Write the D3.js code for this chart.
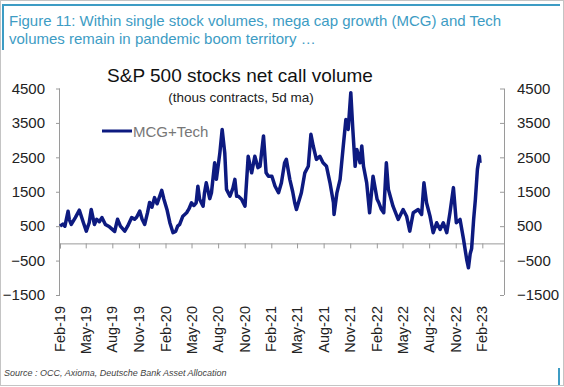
<!DOCTYPE html>
<html>
<head>
    <title>S&amp;P 500 stocks net call volume</title>
    <script src="https://d3js.org/d3.v7.min.js"></script>
    <style>
        body { margin: 0; background: #fff; }
        svg { display: block; font-family: "Liberation Sans", Arial, sans-serif; }
        .axis path, .axis line { stroke: #9a9a9a; }
        .axis text { font-size: 15px; fill: #222; }
        .x-label { font-size: 14.5px; fill: #222; }
    </style>
</head>
<body>
<div id="chart"></div>
<script>
    // series (thous contracts, 5d ma)
    const dates = [
        "2019-02-01","2019-02-11","2019-02-18","2019-03-01","2019-03-05","2019-03-12","2019-03-26","2019-04-09",
        "2019-04-23","2019-05-03","2019-05-13","2019-05-20","2019-05-31","2019-06-08","2019-06-17","2019-06-26",
        "2019-07-08","2019-07-22","2019-08-02","2019-08-09","2019-08-19","2019-08-29","2019-09-13","2019-09-23",
        "2019-10-07","2019-10-17","2019-10-24","2019-11-04","2019-11-12","2019-11-21","2019-12-01","2019-12-08",
        "2019-12-16","2019-12-25","2020-01-03","2020-01-19","2020-01-26","2020-02-06","2020-02-16","2020-02-27",
        "2020-03-07","2020-03-14","2020-03-21","2020-04-01","2020-04-14","2020-04-22","2020-05-01","2020-05-09",
        "2020-05-17","2020-05-23","2020-05-29","2020-06-10","2020-06-15","2020-06-21","2020-07-03","2020-07-09",
        "2020-07-20","2020-07-26","2020-08-07","2020-08-15","2020-08-24","2020-08-30","2020-09-11","2020-09-21",
        "2020-09-28","2020-10-04","2020-10-10","2020-10-21","2020-11-02","2020-11-13","2020-11-25","2020-12-06",
        "2020-12-17","2020-12-24","2021-01-05","2021-01-14","2021-01-22","2021-02-03","2021-02-14","2021-02-26",
        "2021-03-08","2021-03-19","2021-03-25","2021-04-06","2021-04-16","2021-04-23","2021-04-29","2021-05-16",
        "2021-05-28","2021-06-09","2021-06-18","2021-06-26","2021-07-07","2021-07-19","2021-07-30","2021-08-11",
        "2021-08-23","2021-09-04","2021-09-06","2021-09-16","2021-09-27","2021-10-08","2021-10-17","2021-10-25",
        "2021-11-03","2021-11-10","2021-11-18","2021-11-24","2021-12-05","2021-12-11","2021-12-17","2021-12-28",
        "2022-01-07","2022-01-19","2022-02-02","2022-02-08","2022-02-16","2022-02-25","2022-03-06","2022-03-13",
        "2022-03-29","2022-04-16","2022-05-03","2022-05-15","2022-05-26","2022-06-07","2022-06-24","2022-07-06",
        "2022-07-14","2022-07-23","2022-08-04","2022-08-15","2022-08-27","2022-09-08","2022-09-19","2022-10-01",
        "2022-10-12","2022-10-24","2022-11-03","2022-11-16","2022-11-28","2022-12-09","2022-12-15","2022-12-21",
        "2022-12-26","2023-01-02","2023-01-08","2023-01-15","2023-01-22","2023-01-24"
    ];
    const mcgTech = [
        500, 560, 500, 936, 700, 550, 750, 965,
        600, 355, 600, 985, 550, 700, 630, 750,
        550, 480, 400, 345, 700, 500, 355, 500,
        750, 700, 760, 936, 700, 550, 900, 1190,
        1050, 1330, 1150, 1540, 1300, 985, 600, 310,
        345, 500, 550, 790, 890, 1000, 1180, 1100,
        1180, 1660, 1280, 1080, 1480, 1760, 1300, 1470,
        2340, 1860, 2630, 3310, 2630, 1570, 1370, 1600,
        1860, 1370, 1370, 1280, 1080, 2530, 2050, 2530,
        2200, 2240, 3120, 2050, 1950, 1950, 1660, 1470,
        1760, 2340, 2440, 1860, 1500, 1180, 985, 1470,
        2050, 2240, 3170, 2830, 2440, 2530, 2340, 2240,
        1760, 1180, 840, 1470, 1860, 2830, 3600, 3310,
        4380, 3310, 2240, 2730, 2340, 2830, 2240, 1760,
        890, 1950, 1280, 1180, 1000, 890, 2340, 1570,
        1080, 695, 985, 790, 355, 890, 985, 840,
        1760, 1180, 790, 310, 600, 405, 600, 310,
        890, 1620, 600, 695, 115, -470, -710, -300,
        -150, 695, 1280, 2150, 2530, 2340
    ];
    const yTicks = [4500, 3500, 2500, 1500, 500, -500, -1500];
    const xTickLabels = ["Feb-19","May-19","Aug-19","Nov-19","Feb-20","May-20","Aug-20","Nov-20",
        "Feb-21","May-21","Aug-21","Nov-21","Feb-22","May-22","Aug-22","Nov-22","Feb-23"];

    const W = 564, H = 387;
    const blue = "#3d9cc4";
    const navy = "#0d1a80";
    const parse = d3.timeParse("%Y-%m-%d");
    const parseTick = d3.timeParse("%b-%y");

    const data = dates.map((d, i) => ({ date: parse(d), value: mcgTech[i] }));
    const tickDates = xTickLabels.map(parseTick);

    const svg = d3.select("#chart").append("svg")
        .attr("width", W)
        .attr("height", H);

    // frame
    svg.append("rect")
        .attr("x", 0.5).attr("y", 0.5)
        .attr("width", W - 1).attr("height", H - 2)
        .attr("fill", "none").attr("stroke", "#c4c4c4");
    svg.append("line").attr("x1", 3).attr("x2", 560).attr("y1", 5).attr("y2", 5)
        .attr("stroke", blue).attr("stroke-width", 2);
    svg.append("line").attr("x1", 3).attr("x2", 3).attr("y1", 4).attr("y2", 50)
        .attr("stroke", blue).attr("stroke-width", 2);
    svg.append("line").attr("x1", 559).attr("x2", 559).attr("y1", 368).attr("y2", 385)
        .attr("stroke", blue).attr("stroke-width", 2);

    // header
    svg.append("text").attr("x", 9).attr("y", 26)
        .attr("font-size", 15).attr("fill", blue)
        .text("Figure 11: Within single stock volumes, mega cap growth (MCG) and Tech");
    svg.append("text").attr("x", 9).attr("y", 44)
        .attr("font-size", 15).attr("fill", blue)
        .text("volumes remain in pandemic boom territory …");

    // scales
    const x = d3.scaleTime()
        .domain([parse("2019-02-01"), parse("2023-04-17")])
        .range([60, 504]);
    const y = d3.scaleLinear()
        .domain([-1500, 4500])
        .range([295, 88.5]);

    // y axes
    svg.append("g")
        .attr("class", "axis")
        .attr("transform", "translate(60,0)")
        .call(d3.axisLeft(y).tickValues(yTicks).tickSize(4).tickPadding(11).tickFormat(d3.format("d")))
        .call(g => g.select(".domain").attr("d", `M-0.5,${y(4500)}V${y(-1500)}`));
    svg.append("g")
        .attr("class", "axis")
        .attr("transform", "translate(504,0)")
        .call(d3.axisRight(y).tickValues(yTicks).tickSize(-4).tickPadding(13).tickFormat(d3.format("d")))
        .call(g => g.select(".domain").attr("d", `M0.5,${y(4500)}V${y(-1500)}`));

    // x axis at zero
    svg.append("g")
        .attr("class", "axis")
        .attr("transform", `translate(0,${y(0)})`)
        .call(d3.axisBottom(x).tickValues(tickDates).tickSize(5).tickFormat(""));

    // category labels sit below the plot
    svg.append("g").selectAll("text")
        .data(tickDates)
        .join("text")
        .attr("class", "x-label")
        .attr("transform", d => `translate(${x(d) + 5},306) rotate(-90)`)
        .attr("text-anchor", "end")
        .text((d, i) => xTickLabels[i]);

    // line
    const line = d3.line()
        .x(d => x(d.date))
        .y(d => y(d.value));
    svg.append("path")
        .datum(data)
        .attr("fill", "none")
        .attr("stroke", navy)
        .attr("stroke-width", 3.5)
        .attr("stroke-linejoin", "round")
        .attr("d", line);

    // titles
    svg.append("text").attr("x", 240).attr("y", 82)
        .attr("text-anchor", "middle").attr("font-size", 19).attr("fill", "#111")
        .text("S&P 500 stocks net call volume");
    svg.append("text").attr("x", 241).attr("y", 102)
        .attr("text-anchor", "middle").attr("font-size", 13.5).attr("fill", "#222")
        .text("(thous contracts, 5d ma)");

    // legend
    svg.append("line").attr("x1", 102).attr("x2", 132).attr("y1", 131).attr("y2", 131)
        .attr("stroke", navy).attr("stroke-width", 3);
    svg.append("text").attr("x", 133).attr("y", 136.5)
        .attr("font-size", 15).attr("fill", "#777")
        .text("MCG+Tech");

    // source
    svg.append("text").attr("x", 4).attr("y", 376)
        .attr("font-size", 9).attr("font-style", "italic").attr("fill", "#444")
        .text("Source : OCC, Axioma, Deutsche Bank Asset Allocation");
</script>
</body>
</html>
